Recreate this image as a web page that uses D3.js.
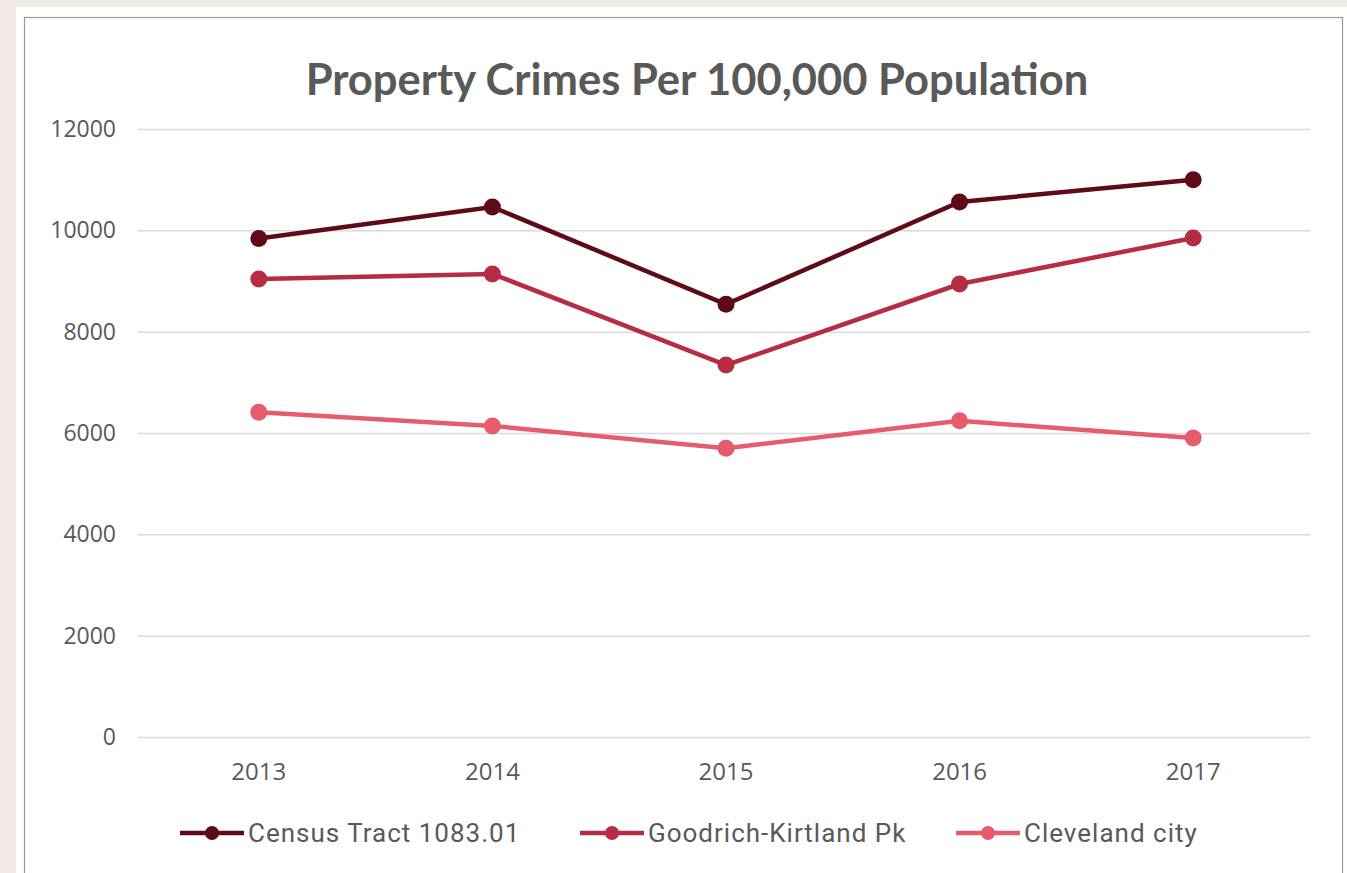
<!DOCTYPE html>
<html><head><meta charset="utf-8">
<script src="https://cdn.jsdelivr.net/npm/d3@7/dist/d3.min.js"></script>
<style>body{margin:0;background:#f2ebe5;}svg{display:block}</style>
</head><body><svg id="c" width="1347" height="873"></svg>
<script>
const years = ["2013","2014","2015","2016","2017"];
const censusTract = [9840, 10460, 8540, 10560, 11000];
const goodrich = [9040, 9140, 7340, 8940, 9850];
const cleveland = [6410, 6140, 5700, 6240, 5900];
const seriesNames = ["Census Tract 1083.01","Goodrich-Kirtland Pk","Cleveland city"];
const seriesColors = ["#5e0a17","#b52c43","#e65c6c"];
const yTicks = [0,2000,4000,6000,8000,10000,12000];
const title = "Property Crimes Per 100,000 Population";

(function(){
const svg = d3.select("#c");
svg.append("rect").attr("x",16).attr("y",7).attr("width",1331).attr("height",866).attr("fill","#fff");
svg.append("rect").attr("x",24.5).attr("y",17.5).attr("width",1318).attr("height",870).attr("fill","none").attr("stroke","#9a9a9a").attr("stroke-width",1.2);

const pl=138, pr=1310, pt=129, pb=737;
const x = d3.scaleBand().domain(years).range([pl+4,pr]);
const y = d3.scaleLinear().domain([0,12000]).range([pb,pt]);

svg.append("text").attr("x",697).attr("y",95).attr("text-anchor","middle")
  .attr("font-family","Lato").attr("font-weight","bold").attr("font-size",43.5).attr("fill","#595959").text(title);

const ya = svg.append("g").attr("transform",`translate(${pl},0)`)
  .call(d3.axisLeft(y).tickValues(yTicks).tickSize(-(pr-pl)).tickPadding(22).tickFormat(d3.format("d")));
ya.select(".domain").remove();
ya.selectAll("line").attr("stroke","#d9d9d9").attr("stroke-width",1.5);
ya.selectAll("text").attr("font-family","Open Sans").attr("font-size",23).attr("fill","#595959");

const xa = svg.append("g").attr("transform",`translate(0,${pb})`)
  .call(d3.axisBottom(x).tickSize(0).tickPadding(26));
xa.select(".domain").remove();
xa.selectAll("text").attr("font-family","Open Sans").attr("font-size",24).attr("fill","#595959");

const data=[censusTract,goodrich,cleveland];
const line=d3.line().x((d,i)=>x(years[i])+x.bandwidth()/2).y(d=>y(d));
data.forEach((s,k)=>{
  svg.append("path").datum(s).attr("d",line).attr("fill","none").attr("stroke",seriesColors[k]).attr("stroke-width",4.5);
  svg.selectAll(null).data(s).enter().append("circle")
    .attr("cx",(d,i)=>x(years[i])+x.bandwidth()/2).attr("cy",d=>y(d)).attr("r",8.5).attr("fill",seriesColors[k]);
});

const legX=[180,580,956];
const lg=svg.append("g");
seriesNames.forEach((n,k)=>{
  const g=lg.append("g").attr("transform",`translate(${legX[k]},833)`);
  g.append("line").attr("x1",0).attr("x2",64).attr("stroke",seriesColors[k]).attr("stroke-width",4.5);
  g.append("circle").attr("cx",32).attr("r",7).attr("fill",seriesColors[k]);
  g.append("text").attr("x",68).attr("y",9).attr("font-family","Roboto").attr("font-size",26).attr("letter-spacing",1)
    .attr("fill","#595959").text(n);
});
})();
</script></body></html>
